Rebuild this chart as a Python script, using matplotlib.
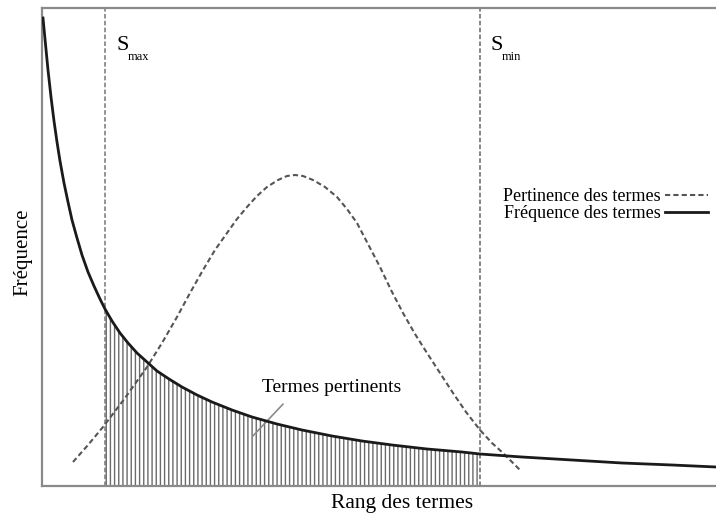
import matplotlib
matplotlib.use("Agg")
import matplotlib.pyplot as plt
import numpy as np

plt.rcParams['font.family'] = ['Liberation Serif', 'DejaVu Serif']
plt.rcParams['hatch.linewidth'] = 1.0

# Term rank (x) and frequency (y) (arbitrary units)
freq_rank = [1, 3, 6, 9, 12, 15, 18, 22, 26, 30, 35, 40, 46, 52, 58, 63, 70, 78, 86, 95,
             105, 115, 127, 140, 155, 170, 190, 210, 235, 260, 290, 320, 350, 385, 420,
             438, 480, 530, 580, 630, 674]
freq_value = [468, 447, 416, 389, 365, 344, 325, 303, 284, 266, 248, 231, 214, 200, 187,
              177, 165, 153, 143, 133, 124, 115, 107, 99, 91, 84, 76, 69, 62, 56, 50, 45,
              41, 37, 34, 32, 29, 26, 23, 21, 19]

# Relevance curve
pert_rank = [31, 46, 61, 83, 105, 120, 135, 148, 161, 173, 185, 195, 205, 215, 225, 236,
             245, 253, 261, 271, 283, 295, 305, 315, 326, 338, 349, 361, 373, 385, 398,
             411, 424, 438, 450, 461, 478]
pert_value = [24, 41, 59, 88, 119, 143, 169, 193, 216, 236, 253, 267, 279, 290, 299, 306,
              310, 311, 310, 306, 299, 289, 277, 263, 242, 219, 196, 173, 152, 133, 113,
              93, 74, 56, 43, 33, 16]

s_max = 63
s_min = 438

fig = plt.figure(figsize=(7.16, 5.16), dpi=100)
ax = fig.add_axes([42/716, (516-486)/516, (716-42)/716, (486-8)/516])
ax.set_xlim(0, 674)
ax.set_ylim(0, 478)
ax.set_xticks([])
ax.set_yticks([])
for side in ['left', 'top', 'bottom']:
    ax.spines[side].set_color('#8a8a8a')
    ax.spines[side].set_linewidth(1.6)
ax.spines['right'].set_visible(False)

fr = np.array(freq_rank)
fv = np.array(freq_value)
mask = (fr >= s_max) & (fr <= s_min)
ax.fill_between(fr[mask], 0, fv[mask], facecolor='white', edgecolor='#6a6a6a',
                hatch='||||', linewidth=0, zorder=1)

ax.axvline(s_max, color='#777777', lw=1.1, ls=(0, (3, 1.5)), zorder=2)
ax.axvline(s_min, color='#666666', lw=1.1, ls=(0, (3, 1.5)), zorder=2)

l_pert, = ax.plot(pert_rank, pert_value, color='#555555', lw=1.5, ls=(0, (2.5, 1.5)),
                  zorder=3, label='Pertinence des termes')
l_freq, = ax.plot(freq_rank, freq_value, color='#1a1a1a', lw=2.0, zorder=4,
                  label='Fréquence des termes')

ax.legend(handles=[l_pert, l_freq], loc='upper right', frameon=False, markerfirst=False,
          fontsize=13, handlelength=2.4, handletextpad=0.2, labelspacing=0.0,
          borderpad=0, borderaxespad=0,
          bbox_to_anchor=(708/716, (516-188)/516), bbox_transform=fig.transFigure)

# S_max / S_min labels
def px(x, y):
    return (x/716, (516-y)/516)

fig.text(*px(116, 50), 'S', fontsize=16, ha='left', va='baseline')
fig.text(*px(128, 60), 'max', fontsize=9, ha='left', va='baseline')
fig.text(*px(490.5, 50.5), 'S', fontsize=16, ha='left', va='baseline')
fig.text(*px(502, 59.5), 'min', fontsize=9, ha='left', va='baseline')

# annotation
fig.text(*px(262, 392), 'Termes pertinents', fontsize=14, ha='left', va='baseline')
ax.annotate('', xy=(251-42, 486-438), xytext=(285-42, 486-402),
            arrowprops=dict(arrowstyle='-', color='#8a8a8a', lw=1.2))

fig.text(*px(402, 508), 'Rang des termes', fontsize=15.5, ha='center', va='baseline')
fig.text(*px(23, 252), 'Fréquence', fontsize=15, ha='center', va='center', rotation=90)

fig.savefig('out.png', dpi=100)
